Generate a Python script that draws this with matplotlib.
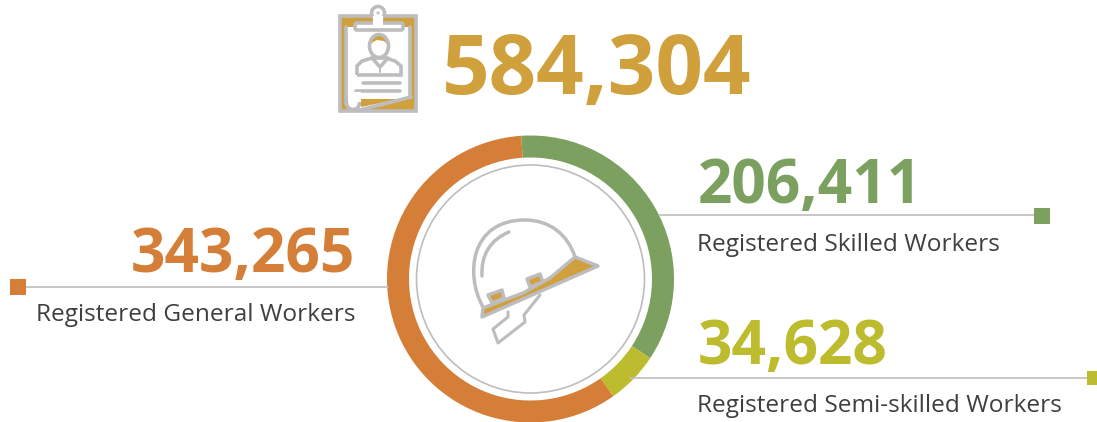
import matplotlib
matplotlib.use('Agg')
import matplotlib.pyplot as plt
from matplotlib.patches import Polygon, Circle, Ellipse, Rectangle, FancyBboxPatch, PathPatch
from matplotlib.path import Path

total_label = '584,304'
categories = ['Registered Skilled Workers', 'Registered Semi-skilled Workers', 'Registered General Workers']
number_labels = ['206,411', '34,628', '343,265']
values = [206411, 34628, 343265]
colors = ['#7BA05F', '#BDBB2E', '#D47E38']

GOLD = '#CFA03C'
GREY = '#BDBDBF'
TEXT = '#3F3F41'

plt.rcParams['font.family'] = ['Open Sans', 'DejaVu Sans']

fig = plt.figure(figsize=(10.97, 4.22), dpi=100)
ax = fig.add_axes([0, 0, 1, 1])

# Donut, y axis gets flipped below so the angles run clockwise from the top
ax.pie(values, colors=colors, center=(530.5, 279), radius=143.5, startangle=-93.7,
       counterclock=True, wedgeprops=dict(width=22, linewidth=0))
ax.add_patch(Circle((530.5, 279), 114, fc='none', ec=GREY, lw=1.2))

ax.set_xlim(0, 1097)
ax.set_ylim(422, 0)
ax.set_aspect('auto')
ax.axis('off')


def line(xs, ys, color=GREY, lw=2.6, z=3):
    ax.plot(xs, ys, color=color, lw=lw, solid_capstyle='round', solid_joinstyle='round', zorder=z)


def poly(pts, fc, ec=GREY, lw=2.6, z=3):
    ax.add_patch(Polygon(pts, closed=True, fc=fc, ec=ec, lw=lw, joinstyle='round', zorder=z))


# Leader lines and end squares
ax.plot([660, 1042], [215, 215], color=GREY, lw=1.2, zorder=1)
ax.add_patch(Rectangle((1034, 208), 16, 16, fc=colors[0], ec='none'))
ax.plot([630, 1092], [378, 378], color=GREY, lw=1.2, zorder=1)
ax.add_patch(Rectangle((1087, 371), 10, 14, fc=colors[1], ec='none'))
ax.plot([18, 388], [287, 287], color=GREY, lw=1.2, zorder=1)
ax.add_patch(Rectangle((10, 279), 16, 16, fc=colors[2], ec='none'))

# Texts
num_kw = dict(fontweight='bold', va='baseline')
ax.text(442, 94, total_label, color=GOLD, fontsize=60, **num_kw)
ax.text(698, 203, number_labels[0], color=colors[0], fontsize=43.5, **num_kw)
ax.text(698, 364, number_labels[1], color=colors[1], fontsize=43.5, **num_kw)
ax.text(355, 272, number_labels[2], color=colors[2], fontsize=43.5, ha='right', **num_kw)
ax.text(697, 251, categories[0], color=TEXT, fontsize=17.6, va='baseline')
ax.text(697, 412, categories[1], color=TEXT, fontsize=17.6, va='baseline')
ax.text(36, 321, categories[2], color=TEXT, fontsize=17.6, va='baseline')

# Clipboard icon
ax.add_patch(Rectangle((340, 16), 76, 95, fc=GOLD, ec=GREY, lw=2.6, zorder=2))
poly([(346, 27), (410, 27), (410, 97), (360, 109), (347, 109)], 'white', ec='none', lw=0, z=3)
line([346, 346], [27, 104], z=4)
line([410, 410], [27, 97], z=4)
ax.add_patch(FancyBboxPatch((357, 25), 44, 3, boxstyle='round,pad=2', fc='white', ec=GREY, lw=2.6, zorder=4))
ax.add_patch(Circle((378, 13), 6.5, fc='white', ec=GREY, lw=2.6, zorder=3))
ax.add_patch(Rectangle((373, 16), 10, 9, fc='white', ec='none', zorder=5))
ax.add_patch(Circle((378, 13), 1.5, fc=GREY, ec='none', zorder=5))
# person
bust = Path([(357, 75), (357, 66), (362, 61), (372, 58), (386, 58), (395, 61), (401, 66), (401, 75), (357, 75)])
ax.add_patch(PathPatch(bust, fc='white', ec=GREY, lw=2.6, zorder=4))
ax.add_patch(Ellipse((379, 46), 19, 23, fc='white', ec='none', zorder=4.2))
poly([(370, 45), (372, 38), (378, 35), (385, 36), (388, 45), (384, 41), (377, 40), (373, 42)], GOLD, ec='none', lw=0, z=4.4)
ax.add_patch(Ellipse((379, 46), 19, 23, fc='none', ec=GREY, lw=2.6, zorder=4.6))
line([372, 380, 388], [58, 67, 58], z=5)
line([380, 380], [67, 72], lw=1.4, z=5)
line([363, 400], [83, 83])
line([356, 400], [91, 91])
# paper curl
ax.add_patch(Circle((353, 103), 6.5, fc='white', ec=GREY, lw=2.6, zorder=4))
ax.add_patch(Rectangle((348, 92), 13, 10, fc='white', ec='none', zorder=4.1))
poly([(361, 99), (400, 99), (361, 107)], GOLD, ec='none', lw=0, z=3.5)
line([360, 411], [110, 97], z=5)

# Helmet icon
dome = Path([(483, 307), (465, 275), (470, 220), (525, 220), (550, 220), (568, 235), (575, 257)],
            [Path.MOVETO, Path.CURVE4, Path.CURVE4, Path.CURVE4, Path.CURVE4, Path.CURVE4, Path.CURVE4])
ax.add_patch(PathPatch(dome, fc='none', ec=GREY, lw=2.5, zorder=3))
inner = Path([(482, 276), (481, 255), (490, 240), (509, 232)], [Path.MOVETO, Path.CURVE4, Path.CURVE4, Path.CURVE4])
ax.add_patch(PathPatch(inner, fc='none', ec=GREY, lw=2.5, capstyle='round', zorder=3))
poly([(488, 295), (502, 290), (504, 298), (492, 303)], GOLD, z=3, lw=2.5)
poly([(527, 279), (540, 274), (543, 282), (530, 287)], GOLD, z=3, lw=2.5)
poly([(482, 317), (483, 308), (523, 293), (550, 278), (575, 257), (598, 266)], GOLD, z=4, lw=2.5)
line([508, 508, 493, 498, 525, 524, 540], [312, 317, 329, 343, 322, 315, 295], lw=2.2)

fig.savefig('out.png', dpi=100)
